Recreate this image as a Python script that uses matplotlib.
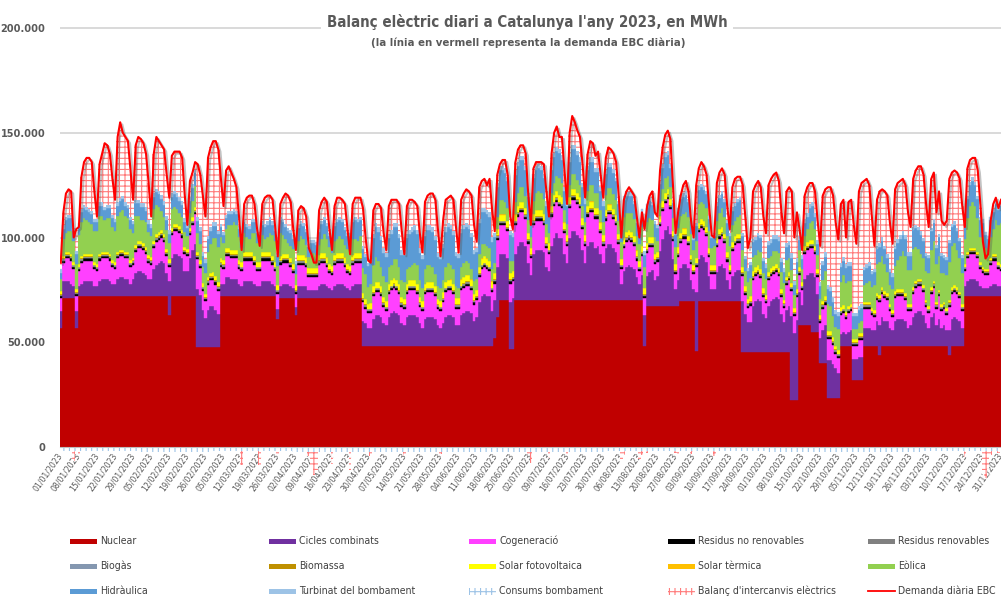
import numpy as np
import pandas as pd
import matplotlib
matplotlib.use("Agg")
import matplotlib.pyplot as plt
import matplotlib.patheffects as pe
from matplotlib.patches import Rectangle
from matplotlib.lines import Line2D

plt.rcParams['font.family'] = ['DejaVu Sans']
plt.rcParams['font.stretch'] = 'condensed'
plt.rcParams['hatch.linewidth'] = 0.8

# ---------------------------------------------------------------------------
# DATA (daily values in thousand MWh, 2023, one row = one week Sun..Sat)
# ---------------------------------------------------------------------------
dates = pd.date_range("2023-01-01", "2023-12-31", freq="D")

nuclear = [
    57, 71, 71, 71, 71, 71, 57,
    72, 72, 72, 72, 72, 72, 72,
    72, 72, 72, 72, 72, 72, 72,
    72, 72, 72, 72, 72, 72, 72,
    72, 72, 72, 72, 72, 72, 72,
    72, 72, 72, 72, 72, 72, 72,
    63, 72, 72, 72, 72, 72, 72,
    72, 72, 72, 72, 47.5, 47.5, 47.5,
    47.5, 47.5, 47.5, 47.5, 47.5, 47.5, 72,
    72, 72, 72, 72, 72, 72, 72,
    72, 72, 72, 72, 72, 72, 72,
    72, 72, 72, 72, 72, 72, 72,
    61, 71, 71, 71, 71, 71, 71,
    63, 71, 71, 71, 71, 71, 71,
    71, 71, 71, 71, 71, 71, 71,
    71, 71, 71, 71, 71, 71, 71,
    71, 71, 71, 71, 71, 48, 48,
    48, 48, 48, 48, 48, 48, 48,
    48, 48, 48, 48, 48, 48, 48,
    48, 48, 48, 48, 48, 48, 48,
    48, 48, 48, 48, 48, 48, 48,
    48, 48, 48, 48, 48, 48, 48,
    48, 48, 48, 48, 48, 48, 48,
    48, 48, 48, 48, 48, 48, 48,
    52, 62, 70, 70, 70, 70, 47,
    47, 70, 70, 70, 70, 70, 70,
    70, 70, 70, 70, 70, 70, 70,
    70, 70, 70, 70, 70, 70, 70,
    70, 70, 70, 70, 70, 70, 70,
    70, 70, 70, 70, 70, 70, 70,
    70, 70, 70, 70, 70, 70, 70,
    70, 70, 70, 70, 70, 70, 70,
    70, 70, 48, 67.5, 67.5, 67.5, 67.5,
    67.5, 67.5, 67.5, 67.5, 67.5, 67.5, 67.5,
    67.5, 67.5, 69.5, 69.5, 69.5, 69.5, 69.5,
    69.5, 46, 69.5, 69.5, 69.5, 69.5, 69.5,
    69.5, 69.5, 69.5, 69.5, 69.5, 69.5, 69.5,
    69.5, 69.5, 69.5, 69.5, 69.5, 45.5, 45.5,
    45.5, 45.5, 45.5, 45.5, 45.5, 45.5, 45.5,
    45.5, 45.5, 45.5, 45.5, 45.5, 45.5, 45.5,
    45.5, 45.5, 45.5, 22.5, 22.5, 22.5, 58,
    58, 58, 58, 58, 55, 55, 55,
    40, 40, 40, 23.5, 23.5, 23.5, 23.5,
    23.5, 48, 48, 48, 48, 48, 32,
    32, 32, 32, 48, 48, 48, 48,
    48, 48, 44, 48, 48, 48, 48,
    48, 48, 48, 48, 48, 48, 48,
    48, 48, 48, 48, 48, 48, 48,
    48, 48, 48, 48, 48, 48, 48,
    48, 44, 48, 48, 48, 48, 48,
    72, 72, 72, 72, 72, 72, 72,
    72, 72, 72, 72, 72, 72, 72,
    72,
]

cicles = [
    8, 8, 8, 8, 7, 6, 8,
    5, 6, 7, 7, 7, 7, 5,
    5, 7, 8, 8, 8, 7, 6,
    6, 8, 9, 9, 8, 8, 6,
    8, 11, 12, 12, 11, 10, 8,
    8, 13, 15, 16, 17, 16, 11,
    16, 18, 20, 20, 19, 18, 12,
    12, 18, 22, 25, 28, 25, 18,
    14, 18, 20, 20, 18, 16, 6,
    6, 9, 9, 8, 8, 8, 6,
    5, 7, 7, 7, 7, 6, 5,
    5, 7, 7, 7, 7, 6, 5,
    5, 6, 7, 7, 7, 6, 5,
    4, 6, 6, 6, 6, 4, 4,
    4, 4, 6, 7, 7, 6, 5,
    4, 6, 7, 7, 7, 6, 5,
    4, 6, 7, 7, 7, 12, 11,
    9, 9, 13, 15, 15, 14, 11,
    10, 14, 16, 17, 16, 15, 11,
    10, 14, 15, 15, 15, 14, 11,
    9, 13, 14, 14, 14, 13, 10,
    9, 11, 14, 15, 15, 14, 10,
    10, 15, 16, 17, 17, 16, 12,
    14, 21, 24, 25, 24, 24, 17,
    18, 24, 22, 22, 22, 20, 22,
    24, 22, 26, 28, 28, 26, 18,
    12, 22, 24, 24, 24, 23, 16,
    14, 26, 30, 32, 30, 30, 22,
    18, 30, 33, 33, 31, 30, 24,
    18, 26, 28, 28, 25, 26, 22,
    18, 25, 27, 27, 25, 23, 18,
    8, 14, 16, 17, 16, 15, 11,
    8, 12, 15, 14, 16, 17, 12,
    14, 26, 32, 36, 38, 34, 22,
    8, 12, 16, 18, 18, 16, 10,
    6, 28, 20, 22, 21, 19, 12,
    6, 6, 14, 17, 18, 16, 10,
    6, 12, 14, 15, 15, 24, 18,
    14, 14, 22, 24, 25, 24, 18,
    16, 22, 24, 25, 26, 25, 18,
    14, 20, 22, 40, 32, 38, 16,
    10, 22, 24, 25, 28, 26, 18,
    12, 16, 18, 18, 18, 16, 14,
    12, 6, 7, 6, 7, 8, 10,
    10, 11, 11, 9, 9, 9, 8,
    8, 12, 14, 14, 12, 12, 9,
    8, 12, 13, 13, 13, 12, 9,
    10, 14, 16, 17, 17, 15, 11,
    9, 14, 16, 10, 13, 9, 10,
    8, 12, 13, 14, 13, 12, 9,
    5, 7, 8, 8, 8, 7, 5,
    4, 4, 4, 5, 6, 6, 5,
    5,
]

cogeneracio = [
    6, 9, 11, 11, 11, 8, 7,
    7, 10, 10, 10, 10, 10, 8,
    7, 10, 10, 10, 10, 10, 8,
    7, 10, 10, 10, 10, 10, 8,
    7, 10, 11, 11, 11, 10, 8,
    7, 10, 11, 11, 11, 10, 8,
    7, 11, 11, 11, 11, 10, 8,
    7, 11, 12, 14, 14, 13, 9,
    8, 12, 12, 12, 12, 11, 8,
    7, 10, 10, 10, 10, 10, 7,
    7, 10, 10, 10, 10, 9, 7,
    7, 10, 10, 10, 10, 9, 7,
    7, 10, 10, 10, 10, 9, 7,
    6, 10, 10, 10, 9, 6, 6,
    6, 6, 10, 10, 10, 9, 7,
    7, 10, 10, 10, 10, 9, 7,
    7, 10, 10, 10, 10, 9, 7,
    7, 7, 11, 11, 11, 10, 8,
    7, 11, 11, 11, 11, 10, 8,
    8, 11, 12, 12, 12, 11, 8,
    8, 12, 12, 12, 12, 11, 8,
    8, 10, 12, 12, 12, 11, 8,
    8, 12, 12, 12, 12, 11, 8,
    8, 12, 13, 13, 13, 12, 9,
    8, 13, 14, 14, 14, 13, 9,
    8, 14, 14, 14, 14, 13, 9,
    8, 14, 14, 14, 14, 13, 9,
    8, 14, 15, 15, 15, 14, 10,
    8, 14, 15, 15, 15, 14, 10,
    8, 14, 14, 14, 14, 13, 10,
    8, 13, 14, 14, 14, 13, 9,
    7, 11, 12, 12, 12, 11, 8,
    6, 9, 8, 11, 12, 11, 8,
    7, 12, 13, 13, 13, 12, 9,
    7, 11, 12, 12, 12, 11, 8,
    7, 12, 13, 13, 13, 12, 9,
    7, 7, 12, 13, 13, 12, 9,
    7, 12, 13, 13, 13, 12, 9,
    7, 8, 12, 12, 12, 11, 8,
    7, 12, 12, 12, 12, 11, 8,
    7, 12, 12, 12, 8, 11, 8,
    7, 12, 12, 12, 12, 11, 8,
    7, 10, 10, 10, 10, 9, 7,
    7, 9, 9, 7, 9, 9, 6,
    6, 8, 8, 9, 9, 9, 7,
    6, 10, 11, 11, 11, 10, 8,
    6, 11, 11, 11, 11, 10, 8,
    7, 11, 12, 12, 12, 11, 8,
    7, 11, 12, 8, 11, 8, 8,
    7, 11, 12, 12, 12, 11, 8,
    7, 11, 12, 12, 12, 11, 8,
    7, 6, 6, 10, 11, 11, 8,
    7,
]

eolica = [
    6, 8, 9, 10, 11, 10, 12,
    14, 16, 17, 16, 15, 14, 15,
    16, 18, 17, 15, 16, 17, 16,
    15, 17, 18, 19, 17, 16, 15,
    12, 14, 12, 10, 11, 12, 11,
    10, 15, 14, 12, 9, 8, 9,
    8, 9, 8, 7, 6, 6, 7,
    6, 7, 8, 10, 9, 8, 8,
    10, 12, 14, 16, 18, 17, 10,
    8, 9, 11, 12, 13, 12, 11,
    7, 9, 7, 6, 9, 11, 9,
    9, 8, 6, 7, 9, 10, 10,
    9, 11, 9, 7, 5, 6, 7,
    5, 7, 9, 8, 6, 5, 7,
    7, 6, 5, 7, 9, 9, 8,
    6, 7, 7, 8, 7, 6, 7,
    7, 8, 7, 6, 8, 12, 12,
    8, 9, 10, 12, 10, 9, 10,
    9, 8, 7, 9, 10, 8, 8,
    8, 7, 6, 7, 8, 9, 8,
    6, 7, 8, 8, 7, 6, 6,
    6, 6, 7, 8, 7, 7, 6,
    5, 6, 7, 7, 6, 5, 6,
    5, 6, 7, 6, 6, 6, 6,
    5, 6, 7, 7, 6, 6, 6,
    5, 6, 6, 7, 7, 6, 6,
    5, 6, 8, 9, 8, 7, 6,
    5, 6, 6, 7, 8, 7, 6,
    5, 6, 7, 7, 6, 6, 6,
    6, 7, 8, 8, 7, 7, 6,
    6, 7, 8, 8, 7, 7, 6,
    8, 10, 9, 8, 9, 8, 7,
    8, 9, 10, 10, 9, 8, 8,
    5, 6, 6, 7, 6, 6, 6,
    8, 9, 8, 7, 8, 9, 10,
    7, 8, 9, 8, 8, 9, 8,
    8, 9, 8, 8, 9, 8, 8,
    9, 8, 7, 8, 9, 8, 7,
    8, 9, 7, 6, 7, 8, 7,
    8, 7, 6, 7, 6, 7, 8,
    8, 8, 7, 6, 6, 7, 8,
    6, 5, 6, 8, 9, 8, 7,
    8, 10, 12, 13, 12, 10, 9,
    10, 12, 14, 14, 12, 11, 5,
    5, 5, 6, 8, 9, 10, 10,
    12, 14, 16, 15, 13, 10, 9,
    10, 12, 14, 16, 18, 18, 16,
    16, 18, 16, 14, 12, 13, 14,
    16, 18, 19, 18, 16, 15, 14,
    16, 18, 20, 20, 18, 16, 15,
    12, 16, 20, 22, 20, 16, 12,
    14, 10, 8, 10, 12, 16, 18,
    20,
]

hidraulica = [
    3, 5, 6, 6, 6, 5, 5,
    4, 5, 5, 5, 5, 5, 4,
    4, 5, 5, 5, 5, 5, 4,
    4, 5, 5, 5, 5, 5, 4,
    4, 6, 6, 6, 6, 5, 4,
    4, 6, 6, 6, 6, 6, 5,
    4, 6, 6, 6, 6, 6, 5,
    4, 6, 6, 6, 6, 6, 5,
    5, 6, 6, 6, 6, 6, 5,
    4, 5, 5, 5, 5, 5, 4,
    4, 5, 5, 5, 5, 5, 5,
    4, 5, 6, 6, 6, 5, 5,
    5, 6, 6, 6, 6, 6, 5,
    5, 6, 6, 6, 6, 5, 5,
    5, 5, 6, 7, 7, 6, 5,
    6, 7, 8, 8, 8, 7, 6,
    7, 8, 9, 9, 8, 9, 8,
    10, 10, 13, 14, 14, 13, 11,
    12, 14, 15, 15, 15, 14, 12,
    13, 15, 16, 16, 16, 15, 13,
    14, 16, 17, 17, 17, 16, 14,
    14, 15, 17, 17, 17, 16, 14,
    14, 16, 16, 16, 16, 15, 13,
    13, 15, 15, 15, 15, 15, 13,
    12, 14, 14, 14, 14, 13, 12,
    11, 13, 13, 13, 13, 12, 11,
    9, 11, 11, 11, 11, 10, 9,
    9, 11, 12, 12, 12, 11, 9,
    9, 11, 12, 12, 12, 11, 9,
    9, 10, 11, 11, 10, 10, 9,
    8, 10, 10, 10, 10, 9, 8,
    6, 8, 8, 8, 8, 7, 6,
    5, 7, 6, 7, 8, 7, 6,
    6, 9, 10, 10, 10, 9, 7,
    6, 8, 8, 8, 8, 7, 6,
    5, 7, 7, 7, 7, 7, 6,
    5, 5, 7, 7, 7, 7, 6,
    5, 7, 7, 7, 7, 7, 6,
    5, 6, 7, 7, 7, 7, 6,
    5, 6, 6, 6, 6, 6, 5,
    5, 6, 6, 6, 5, 6, 5,
    5, 6, 6, 7, 7, 6, 5,
    6, 7, 7, 7, 7, 7, 6,
    6, 7, 7, 7, 7, 7, 6,
    6, 6, 6, 7, 7, 7, 6,
    6, 7, 7, 7, 7, 7, 6,
    6, 8, 8, 8, 8, 8, 7,
    7, 9, 9, 9, 9, 8, 7,
    7, 9, 9, 8, 9, 8, 7,
    7, 9, 9, 9, 9, 8, 7,
    7, 9, 10, 10, 10, 9, 8,
    7, 6, 6, 8, 8, 8, 7,
    8,
]

demanda = [
    88, 112, 121, 123, 122, 100, 104,
    105, 129, 136, 138, 138, 136, 122,
    110, 135, 140, 145, 144, 140, 128,
    118, 148, 155, 150, 148, 146, 132,
    118, 144, 148, 147, 145, 140, 126,
    110, 140, 148, 146, 144, 142, 130,
    119, 139, 141, 141, 141, 138, 120,
    106, 127, 131, 136, 135, 130, 120,
    110, 138, 143, 146, 146, 142, 128,
    115, 132, 134, 131, 128, 124, 110,
    94, 116, 119, 120, 120, 116, 104,
    96, 116, 119, 120, 120, 118, 105,
    91, 116, 119, 121, 120, 117, 104,
    94, 113, 115, 114, 110, 95, 92,
    88, 88, 113, 117, 119, 117, 104,
    94, 115, 119, 119, 118, 116, 104,
    92, 116, 119, 119, 119, 114, 100,
    89, 88, 113, 116, 116, 114, 102,
    94, 115, 118, 118, 118, 116, 103,
    92, 115, 118, 118, 117, 115, 102,
    93, 117, 120, 121, 121, 118, 104,
    91, 108, 118, 119, 120, 118, 105,
    93, 118, 121, 123, 122, 120, 106,
    98, 124, 127, 128, 125, 128, 113,
    103, 130, 135, 137, 137, 130, 110,
    104, 136, 142, 144, 144, 140, 120,
    106, 133, 136, 136, 136, 135, 122,
    110, 140, 150, 153, 148, 148, 132,
    116, 150, 158, 155, 151, 148, 135,
    119, 140, 146, 145, 139, 141, 130,
    119, 138, 143, 142, 140, 136, 120,
    100, 118, 122, 124, 122, 120, 110,
    100, 112, 104, 115, 120, 122, 112,
    110, 132, 143, 149, 151, 147, 125,
    102, 112, 120, 125, 127, 122, 108,
    100, 125, 133, 136, 134, 130, 115,
    101, 100, 126, 131, 133, 130, 115,
    104, 124, 128, 129, 129, 125, 110,
    95, 100, 122, 125, 127, 124, 110,
    102, 125, 128, 130, 131, 127, 112,
    102, 122, 124, 122, 100, 112, 104,
    94, 120, 124, 126, 126, 122, 108,
    96, 120, 123, 124, 124, 120, 107,
    99, 116, 118, 100, 117, 118, 106,
    97, 122, 126, 127, 128, 125, 110,
    96, 118, 122, 123, 122, 120, 107,
    97, 123, 126, 127, 128, 125, 112,
    105, 128, 132, 134, 134, 130, 116,
    105, 128, 131, 112, 122, 108, 106,
    108, 128, 131, 132, 131, 128, 115,
    105, 133, 137, 138, 138, 132, 116,
    98, 90, 92, 108, 116, 119, 114,
    118,
]

# small series: monthly level (thousand MWh per day), Jan..Dec
residus_nr_m = [1.0, 1.0, 1.1, 1.0, 1.0, 1.0, 1.1, 1.0, 1.0, 1.0, 1.0, 1.0]
residus_r_m = [0.4, 0.4, 0.4, 0.4, 0.4, 0.4, 0.4, 0.4, 0.4, 0.4, 0.4, 0.4]
biogas_m = [0.3, 0.3, 0.3, 0.3, 0.3, 0.3, 0.3, 0.3, 0.3, 0.3, 0.3, 0.3]
biomassa_m = [0.35, 0.35, 0.35, 0.35, 0.35, 0.35, 0.35, 0.35, 0.35, 0.35, 0.35, 0.35]
solar_fv_m = [1.2, 1.5, 2.0, 2.4, 2.7, 2.9, 3.0, 2.7, 2.3, 1.8, 1.3, 1.1]
solar_term_m = [0.0, 0.0, 0.02, 0.03, 0.05, 0.06, 0.06, 0.05, 0.03, 0.02, 0.0, 0.0]
turbinat_m = [1.5, 1.8, 1.5, 1.5, 2.0, 2.0, 2.0, 1.8, 1.5, 2.0, 1.8, 1.5]
consums_m = [2.0, 2.2, 2.0, 2.2, 2.5, 2.5, 2.2, 2.0, 2.0, 2.5, 2.2, 2.0]

names = ["Nuclear", "Cicles combinats", "Cogeneració", "Residus no renovables",
         "Residus renovables", "Biogàs", "Biomassa", "Solar fotovoltaica",
         "Solar tèrmica", "Eòlica", "Hidràulica", "Turbinat del bombament",
         "Consums bombament", "Balanç d'intercanvis elèctrics", "Demanda diària EBC"]
colors = ["#C00000", "#7030A0", "#FF40FF", "#000000", "#808080", "#8497B0",
          "#BF9000", "#FFFF00", "#FFC000", "#92D050", "#5B9BD5", "#9DC3E6"]

# ---------------------------------------------------------------------------
# BUILD SERIES (MWh)
# ---------------------------------------------------------------------------
month_idx = dates.month.values - 1
def monthly(m):
    return np.array(m)[month_idx] * 1000

gen_layers = [
    np.array(nuclear) * 1000, np.array(cicles) * 1000, np.array(cogeneracio) * 1000,
    monthly(residus_nr_m), monthly(residus_r_m), monthly(biogas_m), monthly(biomassa_m),
    monthly(solar_fv_m), monthly(solar_term_m),
    np.array(eolica) * 1000, np.array(hidraulica) * 1000, monthly(turbinat_m),
]
for s in gen_layers:
    assert len(s) == len(dates)
dem = np.array(demanda) * 1000
consums = monthly(consums_m)
gen_total = np.sum(gen_layers, axis=0)
balanc = dem - gen_total

days = np.arange(len(dates))

# ---------------------------------------------------------------------------
# PLOT
# ---------------------------------------------------------------------------
fig = plt.figure(figsize=(10.01, 5.99), dpi=100)
W, H = 1001, 599
ymin, ymax = -20000, 202000
px_per = 419 / 200000            # 200.000 -> 419 px
top_px = 447 - ymax * px_per
bot_px = 447 - ymin * px_per
ax = fig.add_axes([59.5 / W, 1 - bot_px / H, 942.8 / W, (bot_px - top_px) / H])

# spine first: set_position resets the ticks
for side in ["left", "right", "top"]:
    ax.spines[side].set_visible(False)
ax.spines["bottom"].set_position(("data", 0))
ax.spines["bottom"].set_color("#BFBFBF")
ax.spines["bottom"].set_zorder(3)

bottom = np.zeros(len(days))
for vals, c in zip(gen_layers, colors):
    ax.bar(days, vals, bottom=bottom, width=1.0, color=c, edgecolor=c,
           linewidth=0.3, zorder=2)
    bottom = bottom + vals

# pumping consumption (negative)
ax.bar(days, -consums, bottom=0, width=1.0, facecolor="white",
       edgecolor="#9DC3E6", hatch="+++", linewidth=0, zorder=2)
# interchange balance: on top when importing, below pumping when exporting
bal_bottom = np.where(balanc >= 0, gen_total, -consums)
ax.bar(days, balanc, bottom=bal_bottom, width=1.0, facecolor="white",
       edgecolor="#FF7C7C", hatch="+++", linewidth=0, zorder=2)

ax.plot(days, dem, color="#FF0000", lw=1.5, zorder=4,
        path_effects=[pe.SimpleLineShadow(offset=(1.5, -1.5), shadow_color="#555555", alpha=0.35),
                      pe.Normal()])

ax.set_xlim(-0.5, len(days) - 0.5)
ax.set_ylim(ymin, ymax)
ax.set_yticks([0, 50000, 100000, 150000, 200000])
ax.set_yticklabels(["0", "50.000", "100.000", "150.000", "200.000"],
                   fontsize=7.8, fontweight="bold", color="#595959")
ax.tick_params(axis="y", length=0, pad=10)
ax.yaxis.grid(True, color="#D9D9D9", lw=1.4, zorder=0)
ax.set_axisbelow(True)

tick_days = days[::7]
ax.set_xticks(tick_days)
ax.set_xticklabels([dates[d].strftime("%d/%m/%Y") for d in tick_days],
                   rotation=55, ha="right", va="center", rotation_mode="anchor",
                   fontsize=6.2, color="#595959")
ax.tick_params(axis="x", length=0, pad=5)

# title
fig.text(527 / W, 1 - 22 / H, "Balanç elèctric diari a Catalunya l'any 2023, en MWh",
         ha="center", va="center", fontsize=10.8, fontweight="bold", color="#595959",
         bbox=dict(facecolor="white", edgecolor="none", pad=4), zorder=10)
fig.text(528 / W, 1 - 43 / H, "(la línia en vermell representa la demanda EBC diària)",
         ha="center", va="center", fontsize=8.2, fontweight="bold", color="#595959",
         zorder=10)

# legend (5 columns x 3 rows)
col_x = [70, 269, 469, 668, 868]
row_y = [541, 566, 591]
for i, name in enumerate(names):
    r, c = divmod(i, 5)
    hx = col_x[c] / W
    hy = 1 - row_y[r] / H
    hw = 27 / W
    if i < 12:
        fig.patches.append(Rectangle((hx, hy - 2.5 / H), hw, 5 / H, transform=fig.transFigure,
                                     facecolor=colors[i], edgecolor="none"))
    elif i == 12:
        fig.patches.append(Rectangle((hx, hy - 3.5 / H), hw, 7 / H, transform=fig.transFigure,
                                     facecolor="white", edgecolor="#9DC3E6", hatch="+++",
                                     linewidth=0))
    elif i == 13:
        fig.patches.append(Rectangle((hx, hy - 3.5 / H), hw, 7 / H, transform=fig.transFigure,
                                     facecolor="white", edgecolor="#FF7C7C", hatch="+++",
                                     linewidth=0))
    else:
        fig.lines.append(Line2D([hx, hx + hw], [hy, hy], transform=fig.transFigure,
                                color="#FF0000", lw=1.3))
    fig.text(hx + 30 / W, hy, name, ha="left", va="center", fontsize=7.6,
             color="#404040")

fig.savefig("out.png", dpi=100)
